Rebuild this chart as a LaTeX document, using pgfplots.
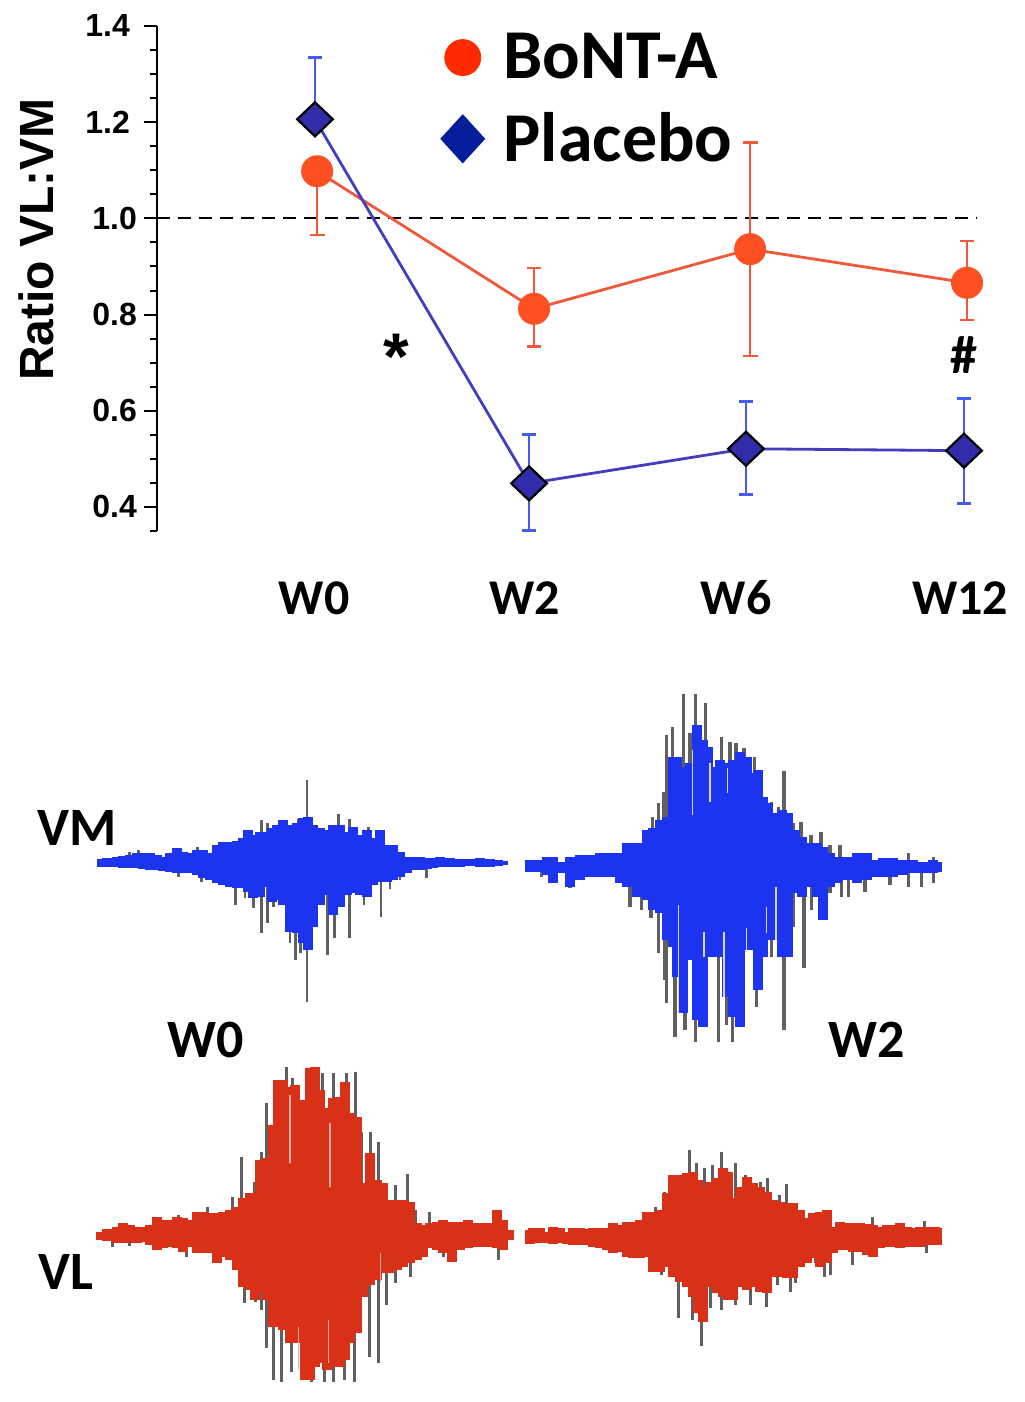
\documentclass[border=0pt]{standalone}
\usepackage{fontspec}
\setmainfont{Carlito}
\newfontfamily\arialf{Liberation Sans}
\usepackage{pgfplots}
\usepackage{pgfplotstable}
\pgfplotsset{compat=1.18}
\definecolor{emgblue}{RGB}{28,52,240}
\definecolor{emgred}{RGB}{217,48,24}
\definecolor{emggrey}{RGB}{95,95,95}
\definecolor{botline}{RGB}{240,88,58}
\definecolor{botmark}{RGB}{255,80,34}
\definecolor{botleg}{RGB}{255,42,0}
\definecolor{plaline}{RGB}{66,62,190}
\definecolor{plaerr}{RGB}{66,92,240}
\definecolor{plamark}{RGB}{48,44,170}
\definecolor{plaleg}{RGB}{2,30,154}

% ratio values: x position, mean, upper and lower whisker length
\pgfplotstableread{
x m up dn
0.005 1.098 0 0.133
1.006 0.812 0.085 0.079
2.003 0.936 0.222 0.222
3.004 0.866 0.087 0.077
}\bont
\pgfplotstableread{
x m up dn
-0.005 1.206 0.129 0
0.983 0.449 0.101 0.098
1.984 0.521 0.098 0.095
2.990 0.517 0.108 0.110
}\placebo

% EMG traces, read off in 3x crop coordinates: x, top, bottom
\pgfplotstableread[row sep=\\]{x t b\\
36 268 290\\ 50 265 290\\ 60 265 290\\ 80 262 292\\ 100 258 295\\ 120 255 295\\ 140 250 295\\ 160 248 298\\ 180 250 300\\ 200 255 300\\ 220 262 302\\ 240 250 305\\ 260 235 310\\ 280 245 310\\ 300 248 308\\ 320 240 315\\ 340 240 325\\ 360 250 330\\ 380 225 340\\ 400 215 345\\ 420 215 350\\ 440 212 355\\ 460 205 355\\ 475 180 365\\ 490 195 385\\ 510 185 380\\ 530 185 350\\ 545 175 395\\ 560 165 390\\ 580 150 405\\ 600 165 485\\ 620 160 490\\ 640 145 520\\ 655 140 540\\ 670 165 470\\ 690 175 405\\ 710 180 375\\ 730 165 435\\ 750 165 410\\ 770 185 375\\ 790 170 370\\ 810 195 375\\ 830 180 380\\ 850 205 345\\ 870 180 335\\ 890 225 335\\ 910 225 330\\ 930 245 320\\ 950 260 310\\ 970 262 300\\ 990 260 300\\ 1010 265 298\\ 1030 265 295\\ 1050 262 292\\ 1080 265 290\\ 1110 268 290\\ 1140 268 288\\ 1170 265 290\\ 1200 268 290\\ 1225 270 288\\ 1240 274 286\\
}\vmAenv
\pgfplotstableread[row sep=\\]{x t b\\
651 30 695\\ 437 278 405\\ 465 278 385\\ 490 278 415\\ 515 150 490\\ 533 160 460\\ 550 165 410\\ 600 278 520\\ 617 278 570\\ 632 278 550\\ 712 278 555\\ 733 278 505\\ 778 148 505\\ 822 278 405\\ 873 278 440\\ 900 278 358\\ 1010 278 323\\ 930 278 330\\ 265 278 322\\ 335 278 335\\ 118 247 295\\ 145 240 295\\ 625 148 278\\ 745 132 278\\ 835 170 278\\ 475 180 278\\ 322 232 278\\ 1048 262 278\\
}\vmAspk
\pgfplotstableread[row sep=\\]{x t b\\
30 540 575\\ 50 540 575\\ 80 530 585\\ 100 530 610\\ 125 545 580\\ 150 530 620\\ 180 525 600\\ 210 525 590\\ 240 520 590\\ 270 520 590\\ 300 520 610\\ 320 490 620\\ 350 490 650\\ 380 450 660\\ 400 445 690\\ 420 420 700\\ 440 410 780\\ 460 230 800\\ 470 230 890\\ 490 260 1000\\ 510 250 840\\ 530 135 1020\\ 550 180 1040\\ 565 200 830\\ 580 260 830\\ 600 240 830\\ 620 250 950\\ 640 240 1010\\ 660 215 1040\\ 680 230 810\\ 700 280 810\\ 715 270 930\\ 730 350 830\\ 745 370 780\\ 765 400 780\\ 785 390 830\\ 805 400 830\\ 825 450 640\\ 845 470 650\\ 870 490 620\\ 890 490 650\\ 910 500 720\\ 930 520 620\\ 950 530 610\\ 980 530 600\\ 1010 520 610\\ 1040 520 600\\ 1060 540 590\\ 1090 535 590\\ 1120 535 590\\ 1150 540 585\\ 1180 540 580\\ 1210 545 580\\ 1240 540 580\\ 1252 545 575\\
}\vmBenv
\pgfplotstableread[row sep=\\]{x t b\\
490 42 558\\ 527 42 1085\\ 556 68 558\\ 440 165 558\\ 458 142 558\\ 510 160 558\\ 605 170 558\\ 630 185 558\\ 648 190 558\\ 672 205 558\\ 703 230 558\\ 722 280 558\\ 755 365 558\\ 792 272 1050\\ 775 380 558\\ 820 430 558\\ 843 425 558\\ 873 465 558\\ 903 455 558\\ 930 495 558\\ 960 495 558\\ 1165 520 558\\ 1240 530 558\\ 415 370 558\\ 432 335 558\\ 398 410 558\\ 465 558 1070\\ 415 558 820\\ 440 558 970\\ 433 558 900\\ 495 558 1050\\ 555 558 1040\\ 595 558 1085\\ 638 558 1085\\ 620 558 1035\\ 710 558 980\\ 755 558 830\\ 820 558 740\\ 852 558 865\\ 330 558 680\\ 365 558 690\\ 393 558 715\\ 875 558 690\\ 930 558 640\\ 965 558 650\\ 985 558 650\\ 1035 558 635\\ 1110 558 615\\ 1165 558 620\\ 1205 558 620\\ 1240 558 610\\ 65 558 590\\ 150 558 625\\
}\vmBspk
\pgfplotstableread[row sep=\\]{x t b\\
475 675 1000\\ 518 210 405\\ 570 250 365\\ 622 265 340\\ 612 755 950\\ 552 755 830\\ 680 745 815\\ 740 680 760\\ 768 620 780\\
}\vmBgap
\pgfplotstableread[row sep=\\]{x t b\\
32 545 570\\ 50 538 572\\ 80 530 580\\ 100 520 578\\ 120 525 580\\ 140 530 580\\ 160 530 575\\ 180 525 585\\ 200 500 600\\ 220 510 595\\ 240 510 590\\ 260 500 595\\ 280 505 605\\ 300 510 590\\ 320 485 610\\ 340 485 610\\ 360 490 610\\ 380 490 640\\ 400 485 620\\ 420 480 630\\ 440 470 660\\ 460 445 710\\ 480 430 720\\ 495 435 750\\ 510 330 730\\ 530 325 750\\ 550 225 830\\ 565 90 830\\ 580 90 840\\ 600 110 880\\ 615 105 880\\ 630 210 870\\ 645 150 990\\ 660 55 990\\ 675 50 950\\ 690 120 940\\ 710 175 960\\ 730 145 950\\ 750 140 950\\ 765 95 930\\ 780 190 880\\ 800 200 850\\ 820 400 740\\ 840 310 705\\ 860 390 690\\ 880 400 670\\ 900 450 670\\ 920 450 660\\ 940 450 650\\ 960 455 640\\ 980 520 630\\ 1000 525 620\\ 1020 520 595\\ 1040 515 600\\ 1060 510 610\\ 1085 515 635\\ 1110 515 600\\ 1135 510 595\\ 1160 520 590\\ 1190 520 590\\ 1220 480 595\\ 1240 510 600\\ 1258 540 570\\
}\vlAenv
\pgfplotstableread[row sep=\\]{x t b\\
588 50 555\\ 730 70 555\\ 795 65 555\\ 770 70 555\\ 697 70 555\\ 608 85 555\\ 530 160 555\\ 515 305 555\\ 455 320 555\\ 492 395 555\\ 428 440 555\\ 632 200 555\\ 815 245 555\\ 840 245 555\\ 865 275 555\\ 915 405 555\\ 953 372 555\\ 888 405 555\\ 975 480 555\\ 1018 485 555\\ 352 470 555\\ 265 495 555\\ 1240 510 555\\ 462 555 760\\ 497 555 755\\ 513 555 780\\ 530 555 895\\ 550 555 990\\ 573 555 995\\ 605 555 965\\ 590 555 880\\ 640 555 990\\ 665 555 995\\ 703 555 995\\ 730 555 995\\ 762 555 990\\ 793 555 995\\ 838 555 920\\ 865 555 940\\ 888 555 765\\ 915 555 700\\ 960 555 680\\ 1225 555 630\\ 1085 555 635\\ 1060 555 620\\ 288 555 620\\ 68 555 590\\ 118 555 588\\
}\vlAspk
\pgfplotstableread[row sep=\\]{x t b\\
720 220 410\\ 600 135 340\\ 872 610 700\\ 715 810 940\\ 625 830 960\\
}\vlAgap
\pgfplotstableread[row sep=\\]{x t b\\
30 300 342\\ 40 295 340\\ 60 295 338\\ 80 305 340\\ 100 290 342\\ 120 295 340\\ 140 305 342\\ 160 295 345\\ 180 295 345\\ 200 298 345\\ 220 295 350\\ 240 295 355\\ 260 295 360\\ 280 280 370\\ 300 285 365\\ 320 275 380\\ 340 275 385\\ 360 270 385\\ 380 245 380\\ 400 245 425\\ 420 240 425\\ 440 190 410\\ 460 135 440\\ 480 135 455\\ 500 130 470\\ 520 125 500\\ 535 150 550\\ 550 170 575\\ 570 155 470\\ 590 145 490\\ 610 115 500\\ 625 125 510\\ 640 205 510\\ 660 170 470\\ 680 140 480\\ 700 160 470\\ 720 170 485\\ 740 185 490\\ 760 210 440\\ 780 215 440\\ 800 220 445\\ 820 220 445\\ 840 240 410\\ 860 265 400\\ 880 250 385\\ 900 245 410\\ 920 240 400\\ 940 290 370\\ 960 275 360\\ 980 278 360\\ 1000 280 365\\ 1020 280 365\\ 1040 282 375\\ 1060 285 380\\ 1080 290 355\\ 1100 285 350\\ 1120 285 350\\ 1140 280 355\\ 1160 290 350\\ 1180 295 350\\ 1200 290 350\\ 1220 290 345\\ 1245 290 345\\ 1252 295 345\\
}\vlBenv
\pgfplotstableread[row sep=\\]{x t b\\
508 60 320\\ 528 100 320\\ 552 115 320\\ 578 105 320\\ 605 65 320\\ 647 100 320\\ 632 160 320\\ 432 185 320\\ 405 232 320\\ 675 135 320\\ 720 155 320\\ 742 145 320\\ 778 195 320\\ 800 162 320\\ 1058 260 320\\ 1212 272 320\\ 475 320 565\\ 518 320 570\\ 543 320 648\\ 572 320 535\\ 605 320 540\\ 647 320 525\\ 690 320 525\\ 740 320 530\\ 773 320 465\\ 810 320 487\\ 825 320 460\\ 912 320 440\\ 930 320 435\\ 997 320 405\\ 425 320 435\\ 510 320 500\\ 1220 320 370\\ 885 320 400\\ 300 320 365\\
}\vlBspk

% vertical bars from a table: table, x offset, y offset, colour, width
\newcommand{\trace}[5]{%
  \addplot[draw=none,mark=none,forget plot,
    error bars/.cd,y dir=plus,y explicit,error mark=none,
    error bar style={color=#4,line width=#5}]
    table[x expr=\thisrow{x}/3+#2,y expr=\thisrow{t}/3+#3,
          y error plus expr=(\thisrow{b}-\thisrow{t})/3]{#1};}

\begin{document}
\begin{tikzpicture}
\path[use as bounding box] (0,0) rectangle (512pt,701pt);
% lower panel, in picture pixels
\begin{axis}[
  at={(0,0)},anchor=south west,
  scale only axis,width=512pt,height=701pt,
  xmin=0,xmax=1024,ymin=0,ymax=1402,y dir=reverse,
  hide axis,clip=false]
  \trace{\vmAspk}{90}{770}{emggrey}{1.4pt}
  \trace{\vmAenv}{90}{770}{emgblue}{5pt}
  \trace{\vmBspk}{520}{680}{emggrey}{1.6pt}
  \trace{\vmBenv}{520}{680}{emgblue}{5pt}
  \trace{\vmBgap}{520}{680}{white!75!emggrey}{0.8pt}
  \trace{\vlAspk}{90}{1050}{emggrey}{1.5pt}
  \trace{\vlAenv}{90}{1050}{emgred}{5pt}
  \trace{\vlAgap}{90}{1050}{white!60!emgred}{0.6pt}
  \trace{\vlBspk}{520}{1130}{emggrey}{1.5pt}
  \trace{\vlBenv}{520}{1130}{emgred}{5pt}
  \node[font=\fontsize{27}{27}\selectfont\bfseries] at (axis cs:77,828) {VM};
  \node[font=\fontsize{27}{27}\selectfont\bfseries] at (axis cs:66,1272) {VL};
  \node[font=\fontsize{27}{27}\selectfont\bfseries] at (axis cs:206,1040) {W0};
  \node[font=\fontsize{27}{27}\selectfont\bfseries] at (axis cs:867,1040) {W2};
\end{axis}
% ratio panel
\begin{axis}[
  at={(78.5pt,435.5pt)},anchor=south west,
  scale only axis,width=416.5pt,height=252.5pt,
  xmin=-0.734,xmax=3.11,ymin=0.35,ymax=1.4,
  clip=false,
  axis y line=left,axis x line=bottom,
  x axis line style={draw=none},y axis line style={line width=1pt,-},
  xtick={-0.009,0.964,1.938,2.972},
  xticklabels={W0,W2,W6,W12},
  xtick style={draw=none},
  xticklabel style={font=\fontsize{25}{25}\selectfont\bfseries,yshift=-15.5pt,text height=16pt,text depth=0pt},
  ytick={0.4,0.6,0.8,1.0},
  extra y ticks={1.2,1.4},
  extra y tick style={yticklabel style={xshift=-3.5pt}},
  minor ytick={0.35,0.45,0.5,0.55,0.65,0.7,0.75,0.85,0.9,0.95,1.05,1.1,1.15,1.25,1.3,1.35},
  ytick style={black,line width=1pt},
  tick align=outside,
  major tick length=6.5pt,minor tick length=3.5pt,
  yticklabel style={font=\arialf\bfseries\fontsize{16}{16}\selectfont,
    /pgf/number format/assume math mode=true,
    /pgf/number format/fixed,/pgf/number format/fixed zerofill,/pgf/number format/precision=1},
  ylabel={\arialf\bfseries\fontsize{24}{28}\selectfont Ratio VL:VM},
  every axis y label/.style={at={(axis description cs:-0.145,0.577)},rotate=90,anchor=center},
  legend style={at={(0.333,1.002)},anchor=north west,draw=none,fill=none,
    font=\fontsize{35}{35}\selectfont\bfseries,row sep=11.5pt},
  legend cell align=left,
  ]
  \addplot[black,line width=1pt,dash pattern=on 6.5pt off 4pt,forget plot]
    coordinates {(-0.734,1) (3.05,1)};
  \addplot[botline,line width=1.4pt,mark=*,mark size=7.3pt,
    mark options={draw=botmark,fill=botmark},forget plot,
    error bars/.cd,y dir=both,y explicit,
    error mark options={rotate=90,mark size=3.7pt,line width=1.3pt,color=botline},
    error bar style={color=botline,line width=1.3pt}]
    table[x=x,y=m,y error plus=up,y error minus=dn]{\bont};
  \addplot[plaline,line width=1.4pt,mark=diamond*,mark size=8.5pt,
    mark options={draw=black,fill=plamark,line width=1.1pt,xscale=1.4},forget plot,
    error bars/.cd,y dir=both,y explicit,
    error mark options={rotate=90,mark size=3.7pt,line width=1.3pt,color=plaerr},
    error bar style={color=plaerr,line width=1.3pt}]
    table[x=x,y=m,y error plus=up,y error minus=dn]{\placebo};
  \addlegendimage{only marks,mark=*,mark size=9pt,mark options={draw=botleg,fill=botleg}}
  \addlegendentry{\hspace{7.5pt}BoNT-A}
  \addlegendimage{only marks,mark=diamond*,mark size=12pt,mark options={draw=plaleg,fill=plaleg,xscale=1.22}}
  \addlegendentry{\hspace{7.5pt}Placebo}
  \node[font=\arialf\bfseries\fontsize{33}{33}\selectfont] at (axis cs:0.37,0.7125) {*};
  \node[font=\fontsize{27}{27}\selectfont\bfseries] at (axis cs:2.99,0.716) {\#};
\end{axis}
\end{tikzpicture}
\end{document}
